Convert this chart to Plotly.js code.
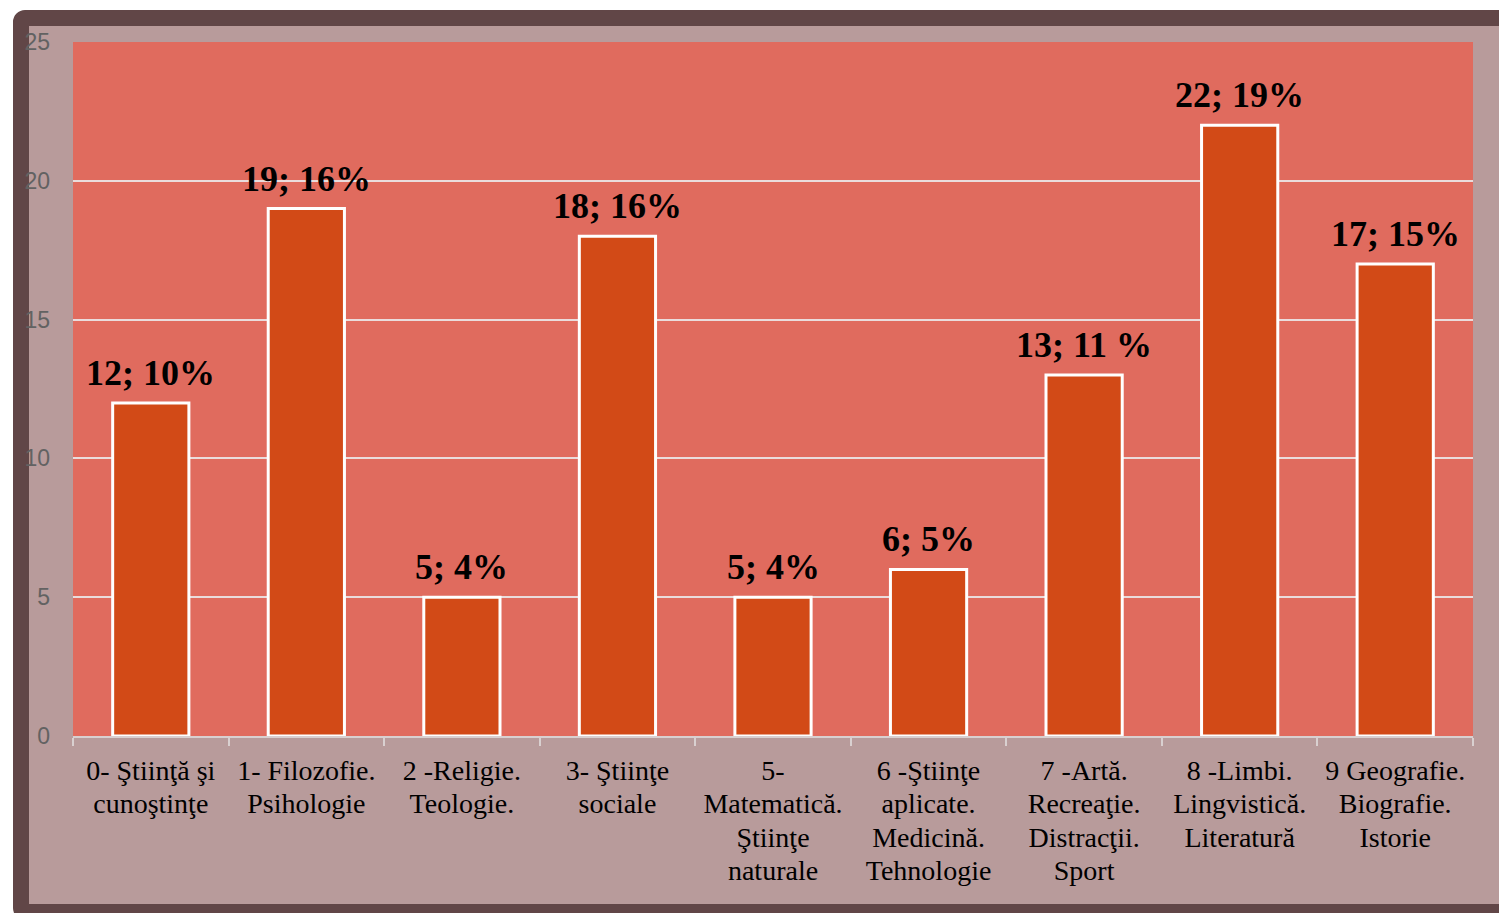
<!DOCTYPE html>
<html>
<head>
<meta charset="utf-8">
<script src="https://cdn.plot.ly/plotly-3.0.1.min.js"></script>
<style>
  html, body { margin: 0; padding: 0; background: #ffffff; width: 1499px; height: 913px; overflow: hidden; }
  #frame { position: absolute; left: 13px; top: 10px; width: 1510px; height: 910px; box-sizing: border-box;
           border: 16px solid #614647; border-radius: 12px; background: #b89b9b; }
  #chart { position: absolute; left: 0; top: 0; width: 1499px; height: 913px; }
</style>
</head>
<body>
<div id="frame"></div>
<div id="chart"></div>
<script>
const categories = [
  "0- Ştiinţă şi<br>cunoştinţe",
  "1- Filozofie.<br>Psihologie",
  "2 -Religie.<br>Teologie.",
  "3- Ştiinţe<br>sociale",
  "5-<br>Matematică.<br>Ştiinţe<br>naturale",
  "6 -Ştiinţe<br>aplicate.<br>Medicină.<br>Tehnologie",
  "7 -Artă.<br>Recreaţie.<br>Distracţii.<br>Sport",
  "8 -Limbi.<br>Lingvistică.<br>Literatură",
  "9 Geografie.<br>Biografie.<br>Istorie"
];
const counts = [12, 19, 5, 18, 5, 6, 13, 22, 17];
const labels = ["12; 10%", "19; 16%", "5; 4%", "18; 16%", "5; 4%", "6; 5%", "13; 11 %", "22; 19%", "17; 15%"];
const yTicks = [0, 5, 10, 15, 20, 25];

const trace = {
  type: 'bar',
  x: categories,
  y: counts,
  width: 0.49,
  marker: { color: '#d24a17', line: { color: '#ffffff', width: 3 } },
  hoverinfo: 'x+y'
};

const annotations = categories.map((c, i) => ({
  x: c, y: counts[i], xref: 'x', yref: 'y',
  text: '<b>' + labels[i] + '</b>', showarrow: false,
  yanchor: 'bottom', xanchor: 'center', yshift: 8,
  font: { family: 'Liberation Serif, Times New Roman, serif', size: 36, color: '#000000', weight: 'bold' }
}));

const layout = {
  width: 1499, height: 913,
  margin: { l: 73, r: 26, t: 42, b: 177, pad: 0 },
  paper_bgcolor: 'rgba(0,0,0,0)',
  plot_bgcolor: '#e06b5e',
  showlegend: false,
  bargap: 0.5,
  xaxis: {
    type: 'category',
    tickson: 'boundaries',
    ticks: 'outside', ticklen: 8, tickwidth: 2, tickcolor: '#d9d0d0',
    showline: true, linecolor: '#d9d0d0', linewidth: 2,
    showgrid: false,
    ticklabelstandoff: 8,
    tickfont: { family: 'Liberation Serif, Times New Roman, serif', size: 28, color: '#000000' },
    fixedrange: true
  },
  yaxis: {
    range: [0, 25],
    tickvals: yTicks,
    ticktext: yTicks.map(String),
    showgrid: true, gridcolor: '#eadcdc', gridwidth: 2,
    zeroline: false, showline: false,
    ticks: '',
    ticklabelstandoff: 22,
    tickfont: { family: 'Liberation Sans, Arial, sans-serif', size: 23, color: '#626262' },
    fixedrange: true
  },
  annotations: annotations
};

Plotly.newPlot('chart', [trace], layout, { displayModeBar: false, staticPlot: true }).then(() => {
  // tighten line spacing of the multi-line category labels (Times-like leading)
  document.querySelectorAll('#chart .xtick text tspan.line').forEach(t => {
    const dy = t.getAttribute('dy');
    if (dy && dy.endsWith('em')) {
      const v = parseFloat(dy);
      t.setAttribute('dy', (v * 1.2 / 1.3) + 'em');
    }
  });
});
</script>
</body>
</html>
